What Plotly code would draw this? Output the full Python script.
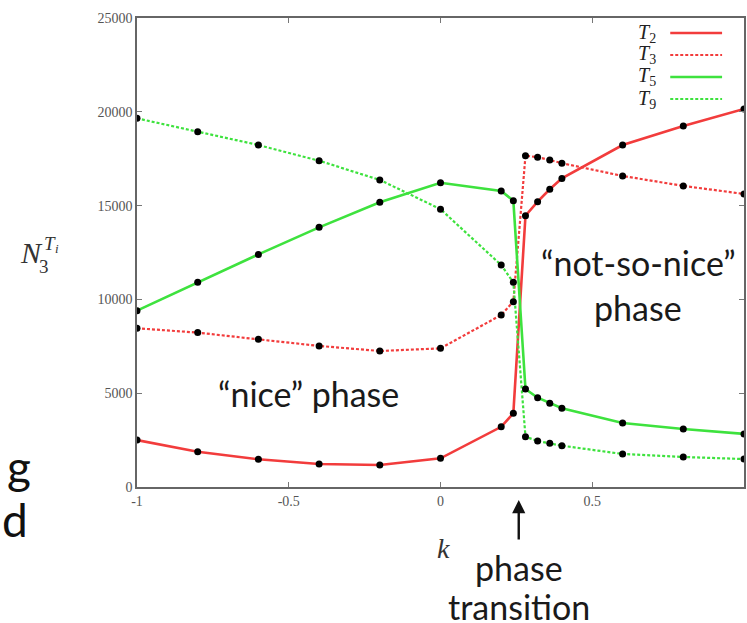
import plotly.graph_objects as go

# ---------------- data ----------------
k = [-1.0, -0.8, -0.6, -0.4, -0.2, 0.0, 0.2, 0.24, 0.28, 0.32, 0.36, 0.4, 0.6, 0.8, 1.0]
T2 = [2500, 1880, 1480, 1230, 1170, 1530, 3210, 3930, 14460, 15210, 15870, 16450, 18230, 19240, 20150]
T3 = [8460, 8230, 7870, 7520, 7250, 7390, 9170, 9880, 17660, 17580, 17430, 17260, 16580, 16050, 15620]
T5 = [9400, 10910, 12400, 13840, 15180, 16220, 15780, 15260, 5220, 4760, 4460, 4200, 3410, 3090, 2830]
T9 = [19650, 18940, 18230, 17390, 16370, 14810, 11830, 10910, 2680, 2450, 2330, 2200, 1760, 1600, 1490]

x_ticks = [-1, -0.5, 0, 0.5]
x_ticklabels = ["-1", "-0.5", "0", "0.5"]
y_ticks = [0, 5000, 10000, 15000, 20000, 25000]
y_ticklabels = ["0", "5000", "10000", "15000", "20000", "25000"]

series_names = ["T2", "T3", "T5", "T9"]
series_labels = ["<i>T</i><sub>2</sub>", "<i>T</i><sub>3</sub>", "<i>T</i><sub>5</sub>", "<i>T</i><sub>9</sub>"]

# ---------------- style ----------------
RED = "#f23c3c"
GREEN = "#3ee23e"
DOT = "3px,2px"
styles = {
    "T2": dict(color=RED, width=2.6, dash="solid"),
    "T3": dict(color=RED, width=2.2, dash=DOT),
    "T5": dict(color=GREEN, width=2.6, dash="solid"),
    "T9": dict(color=GREEN, width=2.2, dash=DOT),
}

W, H = 747, 623
L, R, T, B = 137, 1, 18, 136
PW, PH = W - L - R, H - T - B


def px(xp):
    return (xp - L) / PW


def py(yp):
    return (H - B - yp) / PH


fig = go.Figure()
data = {"T2": T2, "T3": T3, "T5": T5, "T9": T9}
for name in series_names:
    fig.add_trace(go.Scatter(
        x=k, y=data[name], mode="lines", name=name,
        line=styles[name], showlegend=False, hoverinfo="skip",
    ))
for name in series_names:
    fig.add_trace(go.Scatter(
        x=k, y=data[name], mode="markers", showlegend=False,
        marker=dict(color="black", size=7), hoverinfo="skip",
    ))

SERIF = "Liberation Serif"
SANS = "Lato"
ann = []
shapes = []

# custom legend (text on left, line sample on right)
legend_rows = [33, 55, 77, 99]
for name, lab, yy in zip(series_names, series_labels, legend_rows):
    ann.append(dict(x=px(660), y=py(yy), xref="paper", yref="paper", text=lab,
                    showarrow=False, xanchor="right", yanchor="middle",
                    font=dict(family=SERIF, size=20, color="#222")))
    st = styles[name]
    shapes.append(dict(type="line", xref="paper", yref="paper",
                       x0=px(672), x1=px(724), y0=py(yy), y1=py(yy),
                       line=dict(color=st["color"], width=st["width"], dash=st["dash"])))

# y-axis title N_3^{T_i}
ann.append(dict(x=px(31), y=py(252), xref="paper", yref="paper", text="<i>N</i>",
                showarrow=False, xanchor="center", yanchor="middle",
                font=dict(family=SERIF, size=30, color="#333")))
ann.append(dict(x=px(44), y=py(266), xref="paper", yref="paper", text="3",
                showarrow=False, xanchor="center", yanchor="middle",
                font=dict(family=SERIF, size=19, color="#333")))
ann.append(dict(x=px(42), y=py(243), xref="paper", yref="paper", text="<i>T</i>",
                showarrow=False, xanchor="left", yanchor="middle",
                font=dict(family=SERIF, size=19, color="#333")))
ann.append(dict(x=px(53), y=py(248), xref="paper", yref="paper", text="<i>i</i>",
                showarrow=False, xanchor="left", yanchor="middle",
                font=dict(family=SERIF, size=13, color="#333")))

# x-axis title k
ann.append(dict(x=px(445), y=py(548), xref="paper", yref="paper", text="<i>k</i>",
                showarrow=False, xanchor="center", yanchor="middle",
                font=dict(family=SERIF, size=28, color="#333")))

# phase annotations
big = dict(family=SANS, size=34, color="#1a1a1a")
ann.append(dict(x=px(309), y=py(393), xref="paper", yref="paper",
                text="\u201cnice\u201d phase", showarrow=False,
                xanchor="center", yanchor="middle", font=big))
ann.append(dict(x=px(640), y=py(262), xref="paper", yref="paper",
                text="\u201cnot-so-nice\u201d", showarrow=False,
                xanchor="center", yanchor="middle", font=big))
ann.append(dict(x=px(640), y=py(307), xref="paper", yref="paper",
                text="phase", showarrow=False,
                xanchor="center", yanchor="middle", font=big))
ann.append(dict(x=px(520), y=py(567), xref="paper", yref="paper",
                text="phase", showarrow=False,
                xanchor="center", yanchor="middle", font=big))
ann.append(dict(x=px(520), y=py(606), xref="paper", yref="paper",
                text="transition", showarrow=False,
                xanchor="center", yanchor="middle", font=big))
# arrow
ann.append(dict(x=px(520), y=py(500), xref="paper", yref="paper", text="",
                showarrow=True, ax=0, ay=41, arrowhead=2, arrowsize=1.1,
                arrowwidth=2.4, arrowcolor="#111"))

# cut-off slide text at left edge
ann.append(dict(x=px(33), y=py(466), xref="paper", yref="paper", text="g",
                showarrow=False, xanchor="right", yanchor="middle",
                font=dict(family=SANS, size=46, color="#111")))
ann.append(dict(x=px(30), y=py(519), xref="paper", yref="paper", text="d",
                showarrow=False, xanchor="right", yanchor="middle",
                font=dict(family=SANS, size=46, color="#111")))

axis_common = dict(
    showline=True, linecolor="#666", linewidth=1.5, mirror="ticks",
    ticks="inside", ticklen=5, tickcolor="#777", tickwidth=1,
    showgrid=False, zeroline=False,
    tickfont=dict(family=SERIF, size=14, color="#555"),
)

fig.update_layout(
    width=W, height=H,
    margin=dict(l=L, r=R, t=T, b=B),
    paper_bgcolor="white", plot_bgcolor="white",
    xaxis=dict(range=[-1, 1], tickvals=x_ticks, ticktext=x_ticklabels, **axis_common),
    yaxis=dict(range=[0, 25000], tickvals=y_ticks, ticktext=y_ticklabels, **axis_common),
    annotations=ann, shapes=shapes,
)

fig.write_html("out.html", config={"displayModeBar": False},
               post_script="document.body.style.margin='0px';document.body.style.overflow='hidden';")
